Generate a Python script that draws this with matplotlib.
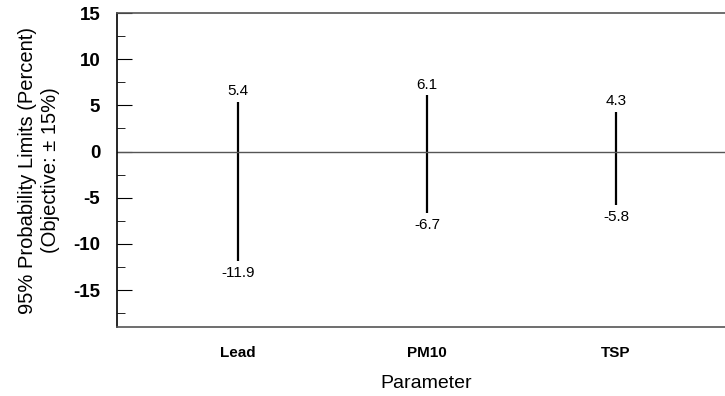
import matplotlib
matplotlib.use("Agg")
import matplotlib.pyplot as plt
from matplotlib.ticker import MultipleLocator

params = ["Lead", "PM10", "TSP"]
upper = [5.4, 6.1, 4.3]
lower = [-11.9, -6.7, -5.8]

plt.rcParams['font.family'] = ['Liberation Sans', 'DejaVu Sans']
plt.rcParams['axes.unicode_minus'] = False

fig = plt.figure(figsize=(7.25, 3.96), dpi=100)
# axes runs a bit past the right edge, like the original
ax = fig.add_axes([117/725, 1 - 327/396, (737 - 117)/725, (327 - 13)/396])

x = list(range(len(params)))
ax.vlines(x, lower, upper, color="black", linewidth=1.6)
ax.axhline(0, color="#555555", linewidth=1.0)

for xi, hi, lo in zip(x, upper, lower):
    ax.annotate("%.1f" % hi, (xi, hi), xytext=(0, 2.5), textcoords="offset points",
                ha="center", va="bottom", fontsize=11)
    ax.annotate("%.1f" % lo, (xi, lo), xytext=(0, -3.5), textcoords="offset points",
                ha="center", va="top", fontsize=11)

ax.set_xlim(-0.64, 2.64)
ax.set_ylim(-19, 15)
ax.yaxis.set_major_locator(MultipleLocator(5))
ax.yaxis.set_minor_locator(MultipleLocator(2.5))
ax.set_xticks(x)
ax.set_xticklabels(params, fontsize=11, fontweight="bold")
for lab in ax.get_yticklabels():
    lab.set_fontweight("bold")
ax.tick_params(axis="y", which="major", direction="in", length=11, labelsize=13.5, pad=12)
ax.tick_params(axis="y", which="minor", direction="in", length=6)
ax.tick_params(axis="x", length=0, pad=14)

for s in ["top", "bottom"]:
    ax.spines[s].set_color("#555555")
    ax.spines[s].set_linewidth(1.2)
ax.spines["left"].set_linewidth(1.2)
ax.spines["right"].set_visible(False)

ax.set_ylabel("95% Probability Limits (Percent)\n(Objective: \u00b1 15%)", fontsize=14.5,
              linespacing=1.25)
ax.set_xlabel("Parameter", fontsize=14)
ax.xaxis.set_label_coords(0.498, -0.152)
ax.yaxis.set_label_coords(-0.092, 0.5)

fig.savefig("out.png", dpi=100)
